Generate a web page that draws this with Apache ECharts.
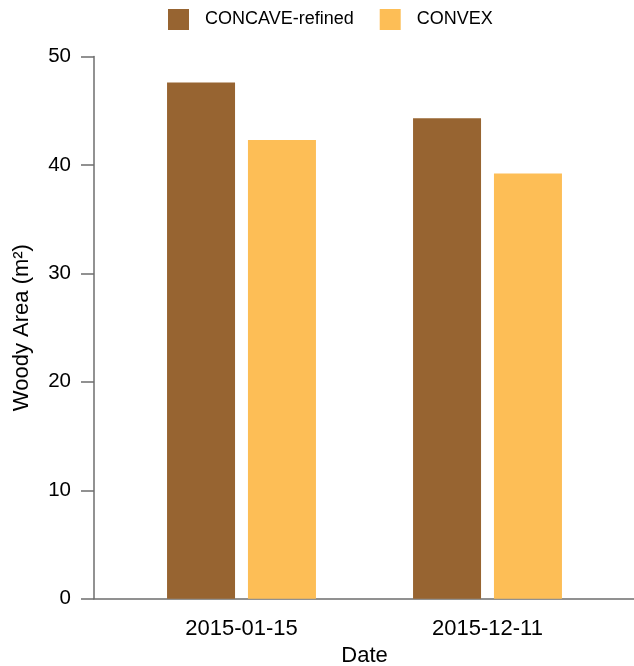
<!DOCTYPE html>
<html>
<head>
<meta charset="utf-8">
<script src="https://cdn.jsdelivr.net/npm/echarts@6/dist/echarts.min.js"></script>
<style>html,body{margin:0;padding:0;background:#fff}#c{width:634px;height:666px}</style>
</head>
<body>
<div id="c"></div>
<script>
const categories = ['2015-01-15', '2015-12-11'];
const concaveRefined = [47.6, 44.3];
const convex = [42.3, 39.2];
const seriesNames = ['CONCAVE-refined', 'CONVEX'];
const yTicks = [0, 10, 20, 30, 40, 50];

const FONT = 'Liberation Sans, Arial, Helvetica, sans-serif';
const AXIS_COLOR = '#6e6e6e';
const TEXT_COLOR = '#000000';

const chart = echarts.init(document.getElementById('c'), null, {renderer: 'canvas'});
chart.setOption({
  animation: false,
  backgroundColor: '#ffffff',
  textStyle: {fontFamily: FONT},
  legend: {
    data: seriesNames,
    left: 163,
    top: 4,
    itemWidth: 21,
    itemHeight: 21,
    itemGap: 26,
    icon: 'rect',
    textStyle: {fontSize: 18, color: TEXT_COLOR, fontFamily: FONT, padding: [0, 0, 0, 11]}
  },
  grid: [
    {left: 118.5, right: 23.5, top: 56.5, bottom: 67.3, containLabel: false, outerBoundsMode: 'none'},
    {left: 94, right: 0, top: 56.5, bottom: 67.3, containLabel: false, outerBoundsMode: 'none'}
  ],
  xAxis: [
    {
      type: 'category',
      gridIndex: 0,
      data: categories,
      name: 'Date',
      nameLocation: 'middle',
      nameGap: 45,
      nameTextStyle: {fontSize: 22, color: TEXT_COLOR, fontFamily: FONT},
      axisLine: {show: false},
      axisTick: {show: false},
      axisLabel: {fontSize: 22, color: TEXT_COLOR, margin: 19, fontFamily: FONT},
      splitLine: {show: false}
    },
    {
      type: 'value',
      gridIndex: 1,
      min: 0, max: 1,
      axisLine: {show: true, lineStyle: {color: AXIS_COLOR, width: 1.5}},
      axisTick: {show: false},
      axisLabel: {show: false},
      splitLine: {show: false}
    }
  ],
  yAxis: [
    {
      type: 'value',
      gridIndex: 0,
      min: yTicks[0],
      max: yTicks[yTicks.length - 1],
      interval: 10,
      offset: 24.5,
      name: 'Woody Area (m²)',
      nameLocation: 'middle',
      nameGap: 61,
      nameTextStyle: {fontSize: 22, color: TEXT_COLOR, fontFamily: FONT},
      axisLine: {show: true, lineStyle: {color: AXIS_COLOR, width: 1.5}},
      axisTick: {show: true, length: 13, lineStyle: {color: AXIS_COLOR, width: 1.5}},
      axisLabel: {fontSize: 20.5, color: TEXT_COLOR, margin: 23, fontFamily: FONT},
      splitLine: {show: false}
    },
    {
      type: 'value',
      gridIndex: 1,
      show: false,
      min: 0, max: 1
    }
  ],
  series: [
    {
      name: seriesNames[0],
      type: 'bar',
      xAxisIndex: 0, yAxisIndex: 0,
      data: concaveRefined,
      barWidth: 68,
      barGap: '19%',
      itemStyle: {color: '#976431'}
    },
    {
      name: seriesNames[1],
      type: 'bar',
      xAxisIndex: 0, yAxisIndex: 0,
      data: convex,
      barWidth: 68,
      barGap: '19%',
      itemStyle: {color: '#fdbe56'}
    }
  ]
});
</script>
</body>
</html>
